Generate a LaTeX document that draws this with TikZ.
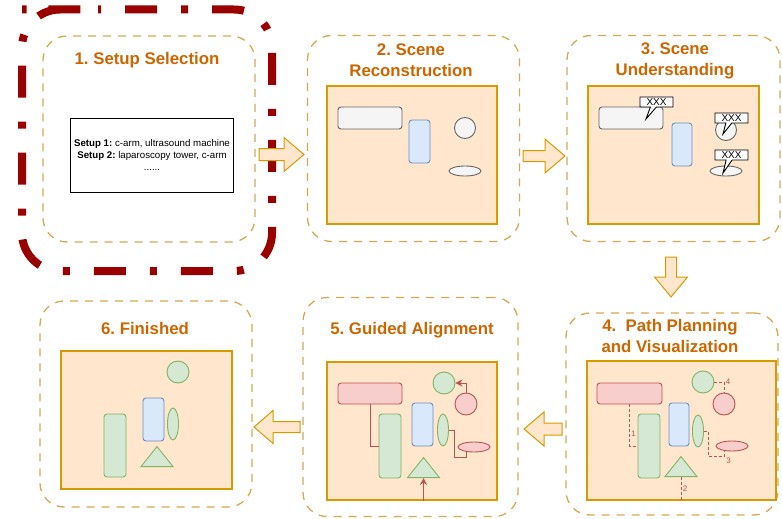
\documentclass[tikz,border=0pt]{standalone}
\usepackage{fontspec}
\setmainfont{Liberation Sans}
\usetikzlibrary{arrows.meta,shapes.geometric,shapes.callouts}
\definecolor{titlecol}{HTML}{CC6600}
\definecolor{panelline}{HTML}{D2AA55}
\definecolor{framered}{HTML}{990000}
\definecolor{canvasfill}{HTML}{FFE6CC}
\definecolor{canvasline}{HTML}{D79B00}
\definecolor{grayfill}{HTML}{F5F5F5}
\definecolor{grayline}{HTML}{666666}
\definecolor{bluefill}{HTML}{DAE8FC}
\definecolor{blueline}{HTML}{6C8EBF}
\definecolor{greenfill}{HTML}{D5E8D4}
\definecolor{greenline}{HTML}{82B366}
\definecolor{redfill}{HTML}{F8CECC}
\definecolor{redline}{HTML}{B85450}
\frenchspacing

\begin{document}
\begin{tikzpicture}[x=1pt,y=-1pt]
    \tikzset{
    panel/.style={draw=panelline, line width=1.3pt, dash pattern=on 8pt off 7pt, rounded corners=24pt, minimum width=212pt, minimum height=206pt, inner sep=0pt},
    selframe/.style={draw=framered, line width=8pt, dash pattern=on 32pt off 24pt on 7pt off 24pt, dash phase=60pt, rounded corners=38pt},
    title/.style={text=titlecol, font=\fontsize{16.8}{21}\selectfont\bfseries, align=center},
    setup/.style={draw=black, line width=0.9pt, minimum width=158pt, minimum height=74pt, align=center, font=\fontsize{9.7}{12}\selectfont},
    canvas/.style={draw=canvasline, fill=canvasfill, line width=2pt, minimum width=170pt, minimum height=138pt, inner sep=0pt},
    obj/.style={line width=0.9pt, inner sep=0pt},
    rbox/.style={obj, rectangle, rounded corners=3pt},
    sgray/.style={draw=grayline, fill=grayfill},
    sblue/.style={draw=blueline, fill=bluefill},
    sgreen/.style={draw=greenline, fill=greenfill},
    sred/.style={draw=redline, fill=redfill},
    tri/.style={obj, sgreen, isosceles triangle, isosceles triangle stretches, shape border rotate=90, minimum width=32pt, minimum height=20pt, anchor=lower side},
    tag/.style={rectangle callout, draw=black, fill=white, line width=0.9pt, inner sep=0pt, minimum width=33pt, minimum height=10pt, callout pointer width=6pt, font=\fontsize{10}{10}\selectfont},
    dpath/.style={draw=redline, line width=0.9pt, dash pattern=on 3pt off 2pt},
    apath/.style={draw=redline, line width=0.9pt, -{Stealth[length=7pt,width=7pt]}},
    lbl/.style={text=redline, font=\fontsize{8}{8}\selectfont, inner sep=1.5pt},
    blk/.style={draw=canvasline, fill=canvasfill, line width=1pt},
    }
    \useasboundingbox (0,0) rectangle (782,519);

    % step boxes
    \node[panel] (p1) at (149,139) {};
    \node[panel] (p2) at (413.5,138.5) {};
    \node[panel, minimum width=213pt] (p3) at (673.5,138.5) {};
    \node[panel, minimum height=202pt] (p4) at (672,414) {};
    \node[panel, minimum width=215pt, minimum height=219pt] (p5) at (410.5,407) {};
    \node[panel] (p6) at (146,404) {};
    \draw[selframe] (60,9.5) -- (272,9.5) -- (272,271) -- (22,271) -- (22,9.5) -- cycle;

    \node[title] (h1) at (147,60) {1. Setup Selection};
    \node[title] (h2) at (411,60.5) {2. Scene\\Reconstruction};
    \node[title] (h3) at (675,60.5) {3. Scene\\Understanding};
    \node[title] (h4) at (670,335.5) {4.\ \ Path Planning\\and Visualization};
    \node[title] (h5) at (412,330) {5. Guided Alignment};
    \node[title] (h6) at (145,328) {6. Finished};

    % 1
    \node[setup] (s1) at (152,155) {\textbf{Setup 1:} c-arm, ultrasound machine\\\textbf{Setup 2:} laparoscopy tower, c-arm\\......};

    % 2
    \node[canvas] (c2) at (412,155) {};
    \node[rbox, sgray, minimum width=64pt, minimum height=22pt] (gr2) at (370,118) {};
    \node[rbox, sblue, minimum width=21pt, minimum height=43pt] (bl2) at (419.5,141.5) {};
    \node[obj, sgray, circle, minimum size=21pt] (ci2) at (465,128) {};
    \node[obj, sgray, ellipse, minimum width=32pt, minimum height=10pt] (el2) at (465,171) {};

    % 3
    \node[canvas, minimum width=171pt] (c3) at (673.5,155) {};
    \node[rbox, sgray, minimum width=64pt, minimum height=22pt] (gr3) at (631,118) {};
    \node[rbox, sblue, minimum width=20pt, minimum height=43pt] (bl3) at (682,144.5) {};
    \node[obj, sgray, circle, minimum size=21pt] (ci3) at (726,130) {};
    \node[obj, sgray, ellipse, minimum width=32pt, minimum height=10pt] (el3) at (726,171) {};
    \node[tag, callout absolute pointer={(646,119)}] (x1) at (656.5,102) {XXX};
    \node[tag, callout absolute pointer={(723,134)}] (x2) at (731.5,118) {XXX};
    \node[tag, callout absolute pointer={(723,173)}] (x3) at (731.5,155) {XXX};

    % 4
    \node[canvas, minimum width=189pt, minimum height=139pt] (c4) at (681.5,430.5) {};
    \node[rbox, sred, minimum width=65pt, minimum height=21pt] (rr4) at (629.5,393.5) {};
    \node[rbox, sgreen, minimum width=22pt, minimum height=64pt] (gt4) at (649,446) {};
    \node[rbox, sblue, minimum width=20pt, minimum height=43pt] (bl4) at (679,424.5) {};
    \node[obj, sgreen, ellipse, minimum width=11pt, minimum height=32pt] (ge4) at (698,431) {};
    \node[obj, sgreen, circle, minimum size=22pt] (gc4) at (703,382) {};
    \node[obj, sred, circle, minimum size=22pt] (rc4) at (724,404) {};
    \node[obj, sred, ellipse, minimum width=32pt, minimum height=10pt] (re4) at (732,446) {};
    \node[tri] (tr4) at (681,477) {};
    \draw[dpath] (rr4.south) |- node[lbl, right, pos=.35] {1} (gt4.west);
    \draw[dpath] (tr4.lower side) -- node[lbl, right] {2} (tr4.lower side |- c4.south);
    \draw[dpath] (ge4.east) -- ++(4.5,0) -- ++(0,25) -| node[lbl, below right, pos=.5] {3} (re4.-147);
    \draw[dpath] (gc4.east) -| node[lbl, right, pos=.5] {4} (rc4.north);

    % 5
    \node[canvas] (c5) at (412,431) {};
    \node[rbox, sred, minimum width=64pt, minimum height=21pt] (rr5) at (370,393.5) {};
    \node[rbox, sgreen, minimum width=22pt, minimum height=64pt] (gt5) at (390,446) {};
    \node[rbox, sblue, minimum width=21pt, minimum height=43pt] (bl5) at (422.5,424.5) {};
    \node[obj, sgreen, ellipse, minimum width=11pt, minimum height=32pt] (ge5) at (443,430) {};
    \node[obj, sgreen, circle, minimum size=22pt] (gc5) at (444,383) {};
    \node[obj, sred, circle, minimum size=22pt] (rc5) at (466,404) {};
    \node[obj, sred, ellipse, minimum width=32pt, minimum height=10pt] (re5) at (474,447) {};
    \node[tri] (tr5) at (423.5,478) {};
    \draw[draw=redline, line width=0.9pt] (rr5.south) |- (gt5.west);
    \draw[draw=redline, line width=0.9pt] (ge5.east) -- ++(5,0) -- ++(0,27) -| (re5.-147);
    \draw[apath] (rc5.north) |- (gc5.east);
    \draw[apath] (tr5.lower side |- c5.south) -- (tr5.lower side);

    % 6
    \node[canvas, minimum width=171pt] (c6) at (146.5,420) {};
    \node[obj, sgreen, circle, minimum size=22pt] (gc6) at (178,372) {};
    \node[rbox, sblue, minimum width=21pt, minimum height=43pt] (bl6) at (153.5,419.5) {};
    \node[obj, sgreen, ellipse, minimum width=11pt, minimum height=32pt] (ge6) at (173,424) {};
    \node[rbox, sgreen, minimum width=22pt, minimum height=63pt] (gt6) at (115,445.5) {};
    \node[tri] (tr6) at (157,467) {};

    % arrows between steps
    \draw[blk, shift={(304,154.5)}] (0,0) -- (-20,-17) -- (-20,-6) -- (-45,-6) -- (-45,6) -- (-20,6) -- (-20,17) -- cycle;
    \draw[blk, shift={(565,156)}] (0,0) -- (-20,-17) -- (-20,-5.5) -- (-42,-5.5) -- (-42,5.5) -- (-20,5.5) -- (-20,17) -- cycle;
    \draw[blk, shift={(671,297)}, rotate=-90] (0,0) -- (-20,-16.5) -- (-20,-5.5) -- (-40,-5.5) -- (-40,5.5) -- (-20,5.5) -- (-20,16.5) -- cycle;
    \draw[blk, shift={(524,429)}, rotate=180] (0,0) -- (-20,-17) -- (-20,-6) -- (-38,-6) -- (-38,6) -- (-20,6) -- (-20,17) -- cycle;
    \draw[blk, shift={(254,427)}, rotate=180] (0,0) -- (-19,-16.5) -- (-19,-5.5) -- (-46,-5.5) -- (-46,5.5) -- (-19,5.5) -- (-19,16.5) -- cycle;
\end{tikzpicture}
\end{document}
